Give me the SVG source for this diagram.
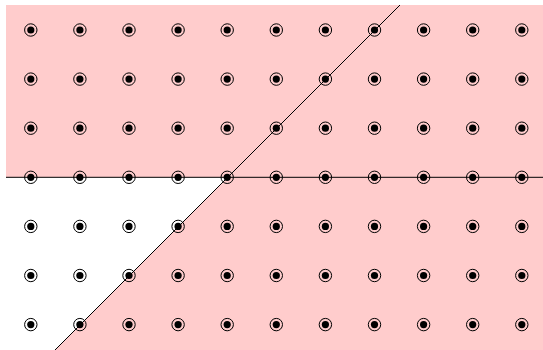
<svg xmlns="http://www.w3.org/2000/svg" width="543" height="350" viewBox="0 0 543 350">
<defs>
<style>
.region{fill:#ffcccc;stroke:none}
.ln{stroke:#000;stroke-width:1;fill:none}
.ring{fill:none;stroke:#000;stroke-width:1}
.dot{fill:#000}
</style>
<g id="pt"><circle class="ring" r="6.2"/><circle class="dot" r="3.6"/></g>
</defs>
<rect width="543" height="350" fill="#fff"/>
<g id="region">
<polygon class="region" points="6,5 543,5 543,350 55,350 227.7,177.3 6,177.3"/>
</g>
<g id="connectors">
<line class="ln" x1="6" y1="177.3" x2="543" y2="177.3"/>
<line class="ln" x1="400" y1="5" x2="55" y2="350"/>
</g>
<g id="points">
<use href="#pt" x="30.8" y="30"/><use href="#pt" x="79.9" y="30"/><use href="#pt" x="129" y="30"/><use href="#pt" x="178.1" y="30"/><use href="#pt" x="227.2" y="30"/><use href="#pt" x="276.3" y="30"/><use href="#pt" x="325.4" y="30"/><use href="#pt" x="374.5" y="30"/><use href="#pt" x="423.6" y="30"/><use href="#pt" x="472.7" y="30"/><use href="#pt" x="521.8" y="30"/>
<use href="#pt" x="30.8" y="79.1"/><use href="#pt" x="79.9" y="79.1"/><use href="#pt" x="129" y="79.1"/><use href="#pt" x="178.1" y="79.1"/><use href="#pt" x="227.2" y="79.1"/><use href="#pt" x="276.3" y="79.1"/><use href="#pt" x="325.4" y="79.1"/><use href="#pt" x="374.5" y="79.1"/><use href="#pt" x="423.6" y="79.1"/><use href="#pt" x="472.7" y="79.1"/><use href="#pt" x="521.8" y="79.1"/>
<use href="#pt" x="30.8" y="128.2"/><use href="#pt" x="79.9" y="128.2"/><use href="#pt" x="129" y="128.2"/><use href="#pt" x="178.1" y="128.2"/><use href="#pt" x="227.2" y="128.2"/><use href="#pt" x="276.3" y="128.2"/><use href="#pt" x="325.4" y="128.2"/><use href="#pt" x="374.5" y="128.2"/><use href="#pt" x="423.6" y="128.2"/><use href="#pt" x="472.7" y="128.2"/><use href="#pt" x="521.8" y="128.2"/>
<use href="#pt" x="30.8" y="177.3"/><use href="#pt" x="79.9" y="177.3"/><use href="#pt" x="129" y="177.3"/><use href="#pt" x="178.1" y="177.3"/><use href="#pt" x="227.2" y="177.3"/><use href="#pt" x="276.3" y="177.3"/><use href="#pt" x="325.4" y="177.3"/><use href="#pt" x="374.5" y="177.3"/><use href="#pt" x="423.6" y="177.3"/><use href="#pt" x="472.7" y="177.3"/><use href="#pt" x="521.8" y="177.3"/>
<use href="#pt" x="30.8" y="226.4"/><use href="#pt" x="79.9" y="226.4"/><use href="#pt" x="129" y="226.4"/><use href="#pt" x="178.1" y="226.4"/><use href="#pt" x="227.2" y="226.4"/><use href="#pt" x="276.3" y="226.4"/><use href="#pt" x="325.4" y="226.4"/><use href="#pt" x="374.5" y="226.4"/><use href="#pt" x="423.6" y="226.4"/><use href="#pt" x="472.7" y="226.4"/><use href="#pt" x="521.8" y="226.4"/>
<use href="#pt" x="30.8" y="275.5"/><use href="#pt" x="79.9" y="275.5"/><use href="#pt" x="129" y="275.5"/><use href="#pt" x="178.1" y="275.5"/><use href="#pt" x="227.2" y="275.5"/><use href="#pt" x="276.3" y="275.5"/><use href="#pt" x="325.4" y="275.5"/><use href="#pt" x="374.5" y="275.5"/><use href="#pt" x="423.6" y="275.5"/><use href="#pt" x="472.7" y="275.5"/><use href="#pt" x="521.8" y="275.5"/>
<use href="#pt" x="30.8" y="324.6"/><use href="#pt" x="79.9" y="324.6"/><use href="#pt" x="129" y="324.6"/><use href="#pt" x="178.1" y="324.6"/><use href="#pt" x="227.2" y="324.6"/><use href="#pt" x="276.3" y="324.6"/><use href="#pt" x="325.4" y="324.6"/><use href="#pt" x="374.5" y="324.6"/><use href="#pt" x="423.6" y="324.6"/><use href="#pt" x="472.7" y="324.6"/><use href="#pt" x="521.8" y="324.6"/>
</g>
</svg>
